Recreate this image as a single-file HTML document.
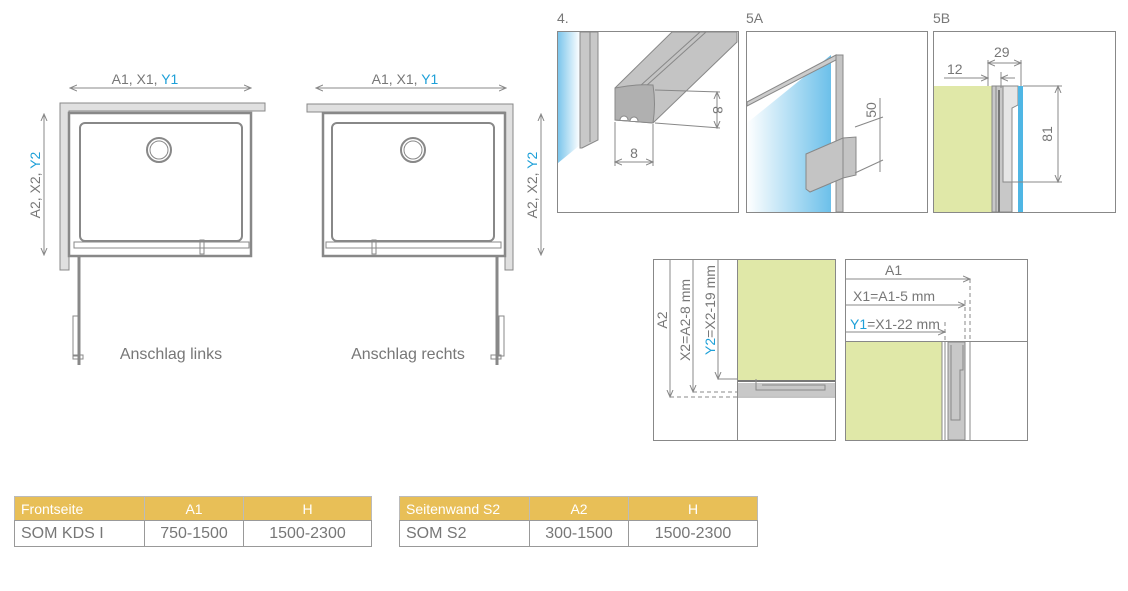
<!DOCTYPE html>
<html><head><meta charset="utf-8"><style>
body{margin:0;background:#fff;width:1128px;height:591px;overflow:hidden;font-family:"Liberation Sans",sans-serif}
svg{position:absolute;left:0;top:0}
table{position:absolute;border-collapse:collapse;font-family:"Liberation Sans",sans-serif;font-size:16px;color:#777}
td{border:1px solid #999;height:25px;padding:0 6px;text-align:center}
th{background:#e8bf57;color:#fff;font-weight:normal;height:23px;border:1px solid #bbb;border-bottom:1px solid #999;text-align:center;padding:0 6px;font-size:14px}
th:first-child,td:first-child{text-align:left}
</style></head><body>
<svg width="1128" height="591" viewBox="0 0 1128 591" font-family="Liberation Sans, sans-serif">
<defs>
<marker id="a" markerWidth="8" markerHeight="8" refX="7" refY="4" orient="auto-start-reverse" markerUnits="userSpaceOnUse"><path d="M0,1 L7,4 L0,7" fill="none" stroke="#888" stroke-width="1"/></marker>
<linearGradient id="gb" x1="0" x2="1"><stop offset="0" stop-color="#7cc6ec"/><stop offset="1" stop-color="#fff"/></linearGradient>
<linearGradient id="gb2" x1="1" x2="0"><stop offset="0" stop-color="#6cc0ea"/><stop offset="1" stop-color="#fff"/></linearGradient>
</defs>
<g stroke="#888" fill="none">
<line x1="70" y1="88" x2="251" y2="88" marker-start="url(#a)" marker-end="url(#a)"/>
<line x1="44" y1="114" x2="44" y2="255" marker-start="url(#a)" marker-end="url(#a)"/>
<path d="M60,103 H265 V111 H69 V270 H60 Z" fill="#e0e0e0"/>
<rect x="69" y="113" width="182" height="143" stroke-width="2.5"/>
<rect x="80" y="123" width="162" height="118" rx="5" stroke-width="2"/>
<rect x="74" y="242" width="175" height="6" stroke-width="1"/>
<circle cx="159" cy="150" r="12" stroke-width="2"/><circle cx="159" cy="150" r="9"/>
<rect x="200" y="240" width="4" height="14" stroke-width="1"/>
<line x1="79" y1="255" x2="79" y2="365" stroke-width="3"/>
<rect x="73" y="316" width="5" height="40"/>
<rect x="73" y="355" width="10" height="4"/>
<line x1="316" y1="88" x2="506" y2="88" marker-start="url(#a)" marker-end="url(#a)"/>
<line x1="541" y1="114" x2="541" y2="255" marker-start="url(#a)" marker-end="url(#a)"/>
<path d="M307,104 H513 V270 H505 V112 H307 Z" fill="#e0e0e0"/>
<rect x="323" y="113" width="182" height="143" stroke-width="2.5"/>
<rect x="332" y="123" width="162" height="118" rx="5" stroke-width="2"/>
<rect x="326" y="242" width="175" height="6" stroke-width="1"/>
<circle cx="413" cy="150" r="12" stroke-width="2"/><circle cx="413" cy="150" r="9"/>
<rect x="372" y="240" width="4" height="14" stroke-width="1"/>
<line x1="497" y1="256" x2="497" y2="365" stroke-width="3"/>
<rect x="499" y="316" width="5" height="40"/>
<rect x="491" y="355" width="10" height="4"/>
<rect x="557.5" y="31.5" width="181" height="181"/>
<rect x="746.5" y="31.5" width="181" height="181"/>
<rect x="933.5" y="31.5" width="182" height="181"/>
</g>
<path d="M558,32 H580 V145 L558,163 Z" fill="url(#gb)"/>
<path d="M580,32 H598 V140 L582,148 L580,148 Z" fill="#c8c8c8" stroke="#888"/>
<line x1="590" y1="32" x2="590" y2="142" stroke="#888"/>
<path d="M615,88 L672,32 H737 V42 L653,123 L615,120 Z" fill="#c4c4c4" stroke="#888"/>
<line x1="640" y1="86" x2="700" y2="32" stroke="#888"/><line x1="646" y1="86" x2="706" y2="32" stroke="#888"/>
<path d="M615,88 Q634,84 653,85 Q656,104 653,123 L615,120 Z" fill="#b0b0b0" stroke="#888"/>
<path d="M620,120 a4,4 0 0 1 8,0 M630,121 a4,4 0 0 1 8,0" fill="#fff" stroke="#888"/>
<line x1="655" y1="90" x2="720" y2="92" stroke="#888"/><line x1="655" y1="123" x2="720" y2="128" stroke="#888"/>
<line x1="717" y1="92" x2="717" y2="128" stroke="#888" marker-start="url(#a)" marker-end="url(#a)"/>
<text x="713" y="110" font-size="14" fill="#777" transform="rotate(90 713 110)" text-anchor="middle">8</text>
<line x1="615" y1="122" x2="615" y2="166" stroke="#888"/><line x1="653" y1="124" x2="653" y2="166" stroke="#888"/>
<line x1="615" y1="162" x2="653" y2="162" stroke="#888" marker-start="url(#a)" marker-end="url(#a)"/>
<text x="634" y="158" font-size="14" fill="#777" text-anchor="middle">8</text>
<path d="M747,123 L831,55 V212 H747 Z" fill="url(#gb2)"/>
<path d="M747,102 L836,55 V60 L747,106 Z" fill="#ccc" stroke="#888"/>
<rect x="836" y="55" width="7" height="157" fill="#c4c4c4" stroke="#888"/>
<path d="M806,154 L843,138 L856,137 L856,175 L843,178 L810,192 L806,189 Z" fill="#c4c4c4" stroke="#888"/>
<line x1="843" y1="138" x2="843" y2="178" stroke="#888"/>
<line x1="855" y1="127" x2="883" y2="117" stroke="#888"/><line x1="855" y1="173" x2="883" y2="160" stroke="#888"/>
<line x1="880" y1="98" x2="880" y2="172" stroke="#888"/>
<text x="876" y="110" font-size="14" fill="#777" transform="rotate(-90 876 110)" text-anchor="middle">50</text>
<rect x="934" y="86" width="58" height="126" fill="#e0e8a8"/>
<rect x="992" y="86" width="20" height="126" fill="#c8c8c8" stroke="#888"/>
<path d="M1003,86 H1018 V105 L1012,108 V182 H1003 Z" fill="#e6e6e6" stroke="#888"/>
<rect x="1018" y="86" width="5" height="126" fill="#4fb6e4"/>
<line x1="996" y1="86" x2="996" y2="212" stroke="#888"/><line x1="999" y1="90" x2="999" y2="212" stroke="#777" stroke-width="2"/>
<g stroke="#888" fill="none">
<line x1="944" y1="78" x2="988" y2="78" marker-end="url(#a)"/>
<line x1="1001" y1="78" x2="1015" y2="78" marker-start="url(#a)"/>
<line x1="988" y1="60" x2="988" y2="86"/><line x1="1021" y1="60" x2="1021" y2="86"/><line x1="1001" y1="72" x2="1001" y2="88"/>
<line x1="988" y1="63" x2="1021" y2="63" marker-start="url(#a)" marker-end="url(#a)"/>
<line x1="1023" y1="86" x2="1062" y2="86"/><line x1="1012" y1="182" x2="1062" y2="182"/>
<line x1="1058" y1="86" x2="1058" y2="182" marker-start="url(#a)" marker-end="url(#a)"/>
</g>
<g font-size="14" fill="#777">
<text x="557" y="23">4.</text><text x="746" y="23">5A</text><text x="933" y="23">5B</text>
<text x="994" y="57">29</text><text x="947" y="74">12</text>
<text x="1052" y="134" transform="rotate(-90 1052 134)" text-anchor="middle">81</text>
</g>
<g stroke="#888" fill="none">
<rect x="653.5" y="259.5" width="182" height="181"/>
<rect x="845.5" y="259.5" width="182" height="181"/>
</g>
<rect x="738" y="260" width="97" height="121" fill="#e0e8a8"/>
<rect x="738" y="383" width="97" height="13" fill="#c8c8c8"/>
<line x1="738" y1="381" x2="835" y2="381" stroke="#777" stroke-width="2"/>
<line x1="738" y1="397" x2="835" y2="397" stroke="#888"/>
<line x1="737.5" y1="260" x2="737.5" y2="440" stroke="#888"/>
<path d="M756,379 V390 H825 V385 H762" fill="none" stroke="#888"/>
<g stroke="#888" fill="none">
<line x1="670" y1="260" x2="670" y2="397" marker-end="url(#a)"/>
<line x1="693" y1="260" x2="693" y2="392" marker-end="url(#a)"/>
<line x1="718" y1="260" x2="718" y2="379" marker-end="url(#a)"/>
<line x1="718" y1="379" x2="738" y2="379"/>
<line x1="693" y1="392" x2="738" y2="392" stroke-dasharray="4,3"/>
<line x1="670" y1="397" x2="738" y2="397" stroke-dasharray="4,3"/>
</g>
<rect x="846" y="342" width="96" height="98" fill="#e0e8a8"/>
<rect x="948" y="342" width="17" height="98" fill="#c8c8c8" stroke="#888"/>
<path d="M951,345 V420 H960 V370 H963 V345" fill="none" stroke="#888"/>
<line x1="942" y1="342" x2="942" y2="440" stroke="#888"/><line x1="945" y1="342" x2="945" y2="440" stroke="#888"/>
<g stroke="#888" fill="none">
<line x1="846" y1="341.5" x2="1027" y2="341.5"/>
<line x1="970" y1="342" x2="970" y2="440"/>
<line x1="846" y1="279" x2="970" y2="279" marker-end="url(#a)"/>
<line x1="846" y1="305" x2="965" y2="305" marker-end="url(#a)"/>
<line x1="846" y1="332" x2="945" y2="332" marker-end="url(#a)"/>
<line x1="970" y1="279" x2="970" y2="342" stroke-dasharray="4,3"/>
<line x1="965" y1="300" x2="965" y2="342" stroke-dasharray="4,3"/>
<line x1="945" y1="322" x2="945" y2="342" stroke-dasharray="4,3"/>
</g>
<g font-size="14" fill="#777">
<text x="885" y="275">A1</text>
<text x="853" y="301">X1=A1-5 mm</text>
<text x="850" y="329"><tspan fill="#1ea0d8">Y1</tspan>=X1-22 mm</text>
<text x="667" y="320" transform="rotate(-90 667 320)" text-anchor="middle">A2</text>
<text x="690" y="320" transform="rotate(-90 690 320)" text-anchor="middle">X2=A2-8 mm</text>
<text x="715" y="310" transform="rotate(-90 715 310)" text-anchor="middle"><tspan fill="#1ea0d8">Y2</tspan>=X2-19 mm</text>
<text x="145" y="84" text-anchor="middle">A1, X1, <tspan fill="#1ea0d8">Y1</tspan></text>
<text x="405" y="84" text-anchor="middle">A1, X1, <tspan fill="#1ea0d8">Y1</tspan></text>
<text x="40" y="185" transform="rotate(-90 40 185)" text-anchor="middle">A2, X2, <tspan fill="#1ea0d8">Y2</tspan></text>
<text x="537" y="185" transform="rotate(-90 537 185)" text-anchor="middle">A2, X2, <tspan fill="#1ea0d8">Y2</tspan></text>
</g>
<g font-size="16" fill="#777">
<text x="171" y="359" text-anchor="middle">Anschlag links</text>
<text x="408" y="359" text-anchor="middle">Anschlag rechts</text>
</g>
</svg>
<table style="left:14px;top:496px;width:358px">
<tr><th style="width:117px">Frontseite</th><th style="width:86px">A1</th><th>H</th></tr>
<tr><td>SOM KDS I</td><td>750-1500</td><td>1500-2300</td></tr>
</table>
<table style="left:399px;top:496px;width:359px">
<tr><th style="width:117px">Seitenwand S2</th><th style="width:86px">A2</th><th>H</th></tr>
<tr><td>SOM S2</td><td>300-1500</td><td>1500-2300</td></tr>
</table>
</body></html>
